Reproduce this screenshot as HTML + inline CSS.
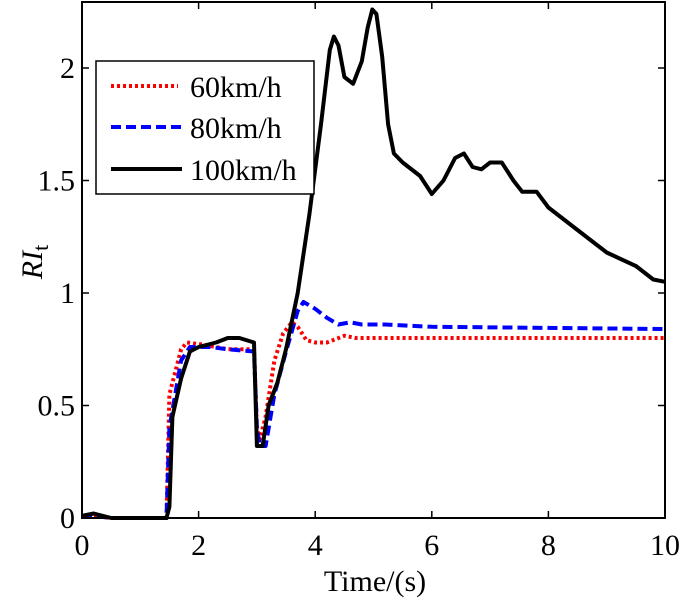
<!DOCTYPE html>
<html><head><meta charset="utf-8">
<style>
html,body{margin:0;padding:0;background:#fff;}
svg{display:block;font-family:"Liberation Serif",serif;}
</style></head>
<body>
<svg id="chart" width="685" height="601" viewBox="0 0 685 601">
<g id="plot"></g>
<g id="axes"></g>
</svg>
<script>
const xTicks=[0,2,4,6,8,10];
const yTicks=[0,0.5,1,1.5,2];
const yTickLabels=["0","0.5","1","1.5","2"];
const t100=[0,0.2,0.5,1.45,1.5,1.55,1.7,1.85,2.0,2.3,2.5,2.7,2.95,3.0,3.1,3.2,3.35,3.5,3.7,3.9,4.1,4.25,4.32,4.4,4.5,4.65,4.8,4.9,4.98,5.05,5.15,5.25,5.35,5.5,5.8,6.0,6.2,6.4,6.55,6.7,6.85,7.0,7.2,7.4,7.55,7.8,8.0,8.5,9.0,9.5,9.8,10];
const v100=[0.01,0.02,0,0,0.05,0.45,0.62,0.74,0.76,0.78,0.8,0.8,0.78,0.32,0.32,0.5,0.6,0.75,1.0,1.35,1.75,2.08,2.14,2.1,1.96,1.93,2.03,2.18,2.26,2.24,2.05,1.75,1.62,1.58,1.52,1.44,1.5,1.6,1.62,1.56,1.55,1.58,1.58,1.5,1.45,1.45,1.38,1.28,1.18,1.12,1.06,1.05];
const t80=[0,0.2,0.5,1.45,1.5,1.7,1.85,2.2,2.5,2.95,3.0,3.05,3.15,3.3,3.5,3.7,3.8,4.0,4.2,4.4,4.6,4.8,5.2,6,10];
const v80=[0.01,0.01,0,0,0.4,0.7,0.76,0.76,0.75,0.74,0.4,0.32,0.32,0.55,0.74,0.92,0.96,0.93,0.89,0.86,0.87,0.86,0.86,0.85,0.84];
const t60=[0,0.2,0.5,1.45,1.5,1.6,1.7,1.8,2.1,2.5,2.95,3.0,3.05,3.15,3.3,3.45,3.6,3.7,3.85,4.0,4.2,4.5,4.7,5.5,10];
const v60=[0.01,0.01,0,0,0.55,0.65,0.75,0.78,0.77,0.75,0.75,0.4,0.35,0.45,0.7,0.82,0.87,0.85,0.79,0.78,0.78,0.81,0.8,0.8,0.8];

const L=82,R=665,T=2,B=518,YMAX=(518-2)/225;
const xs=v=>L+(v/10)*(R-L);
const ys=v=>B-(v/YMAX)*(B-T);
const NS="http://www.w3.org/2000/svg";
const plot=document.getElementById('plot'),axes=document.getElementById('axes');
function mk(tag,attrs,parent){const e=document.createElementNS(NS,tag);for(const k in attrs)e.setAttribute(k,attrs[k]);parent.appendChild(e);return e;}
function series(ts,vs,color,dash,name,w){
  const d=ts.map((t,i)=>(i?'L':'M')+xs(t).toFixed(1)+','+ys(vs[i]).toFixed(1)).join('');
  const p=mk('path',{d:d,fill:'none',stroke:color,'stroke-width':w,'stroke-dasharray':dash,'stroke-linejoin':'round'},plot);
  
  
}
series(t60,v60,'#ff0000','3 3','series-60kmh',4);
series(t80,v80,'#0000ff','10 5','series-80kmh',4);
series(t100,v100,'#000','','series-100kmh',4);

const frame=mk('rect',{x:L,y:T,width:R-L,height:B-T,fill:'none',stroke:'#000','stroke-width':2},axes);


xTicks.forEach(v=>{
  const x=xs(v);
  mk('line',{x1:x,y1:B,x2:x,y2:B-7,stroke:'#000','stroke-width':1.5},axes);
  mk('line',{x1:x,y1:T,x2:x,y2:T+7,stroke:'#000','stroke-width':1.5},axes);
  const tx=mk('text',{x:x,y:555,'text-anchor':'middle','font-size':30},axes);
  tx.textContent=v;
  
  
});
yTicks.forEach((v,i)=>{
  const y=ys(v);
  mk('line',{x1:L,y1:y,x2:L+7,y2:y,stroke:'#000','stroke-width':1.5},axes);
  mk('line',{x1:R,y1:y,x2:R-7,y2:y,stroke:'#000','stroke-width':1.5},axes);
  const tx=mk('text',{x:75,y:y+10,'text-anchor':'end','font-size':30},axes);
  tx.textContent=yTickLabels[i];
  
  
});
</script>
<svg style="position:absolute;left:0;top:0" width="685" height="601">
<text x="375" y="591" text-anchor="middle" font-size="30" font-family="Liberation Serif,serif">Time/(s)</text>
<text transform="translate(42,262) rotate(-90)" text-anchor="middle" font-size="30" font-family="Liberation Serif,serif"><tspan font-style="italic">RI</tspan><tspan font-size="22" dy="6">t</tspan></text>
<g>
<rect x="96" y="61" width="218" height="133" fill="#fff" stroke="#000" stroke-width="1.5"/>
<line x1="111" y1="86" x2="178" y2="86" stroke="#f00" stroke-width="4" stroke-dasharray="3 3"/>
<text x="190" y="97" font-size="30" font-family="Liberation Serif,serif">60km/h</text>
<line x1="111" y1="127" x2="182" y2="127" stroke="#00f" stroke-width="4" stroke-dasharray="10 5"/>
<text x="190" y="138" font-size="30" font-family="Liberation Serif,serif">80km/h</text>
<line x1="111" y1="169" x2="182" y2="169" stroke="#000" stroke-width="4"/>
<text x="190" y="180" font-size="30" font-family="Liberation Serif,serif">100km/h</text>
</g>
</svg>
</body></html>
